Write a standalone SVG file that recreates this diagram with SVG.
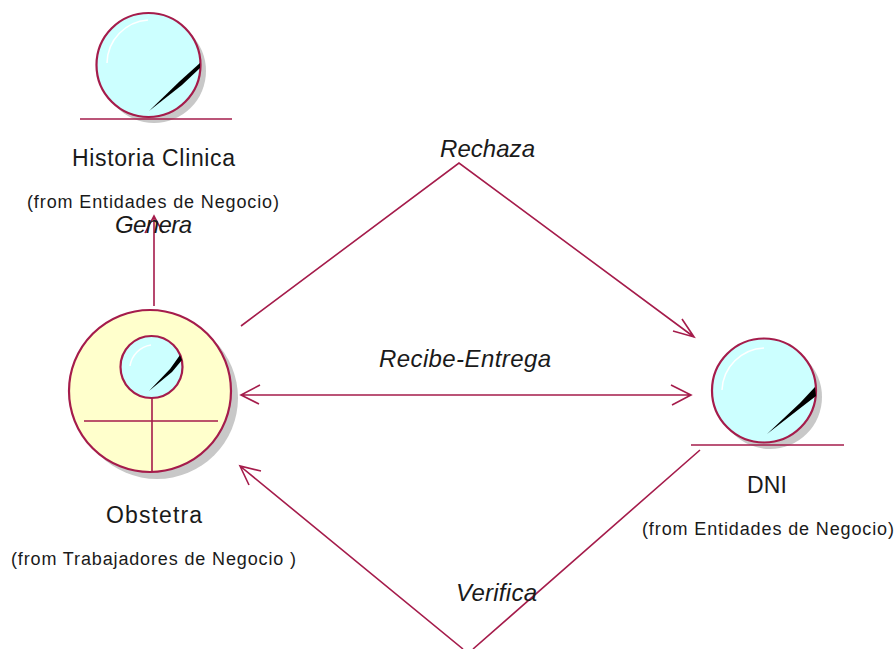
<svg xmlns="http://www.w3.org/2000/svg" width="895" height="649" viewBox="0 0 895 649">
<style>
text{font-family:"Liberation Sans",Arial,sans-serif;fill:#1a1a1a}
.n{font-size:23px}
.f{font-size:18px}
.l{font-size:24px;font-style:italic}
.c{fill:none;stroke:#a51c4b;stroke-width:1.6}
.b{fill:#ccffff;stroke:#a51c4b;stroke-width:2.200}
.y{fill:#ffffcc;stroke:#a51c4b;stroke-width:2.200}
.s{fill:#c8c8c8}
.h{fill:none;stroke:#fff;stroke-width:1.500}
.p{fill:#000}
</style>
<rect width="895" height="649" fill="#fff"/>
<g id="historia-clinica">
<circle class="s" cx="154" cy="71" r="52"/>
<circle class="b" cx="148.500" cy="65" r="52"/>
<path class="h" d="M107 63A44 44 0 0 1 148 20"/>
<polygon class="p" points="149,111 180,81 200,63 200,68 182,85"/>
<line class="c" x1="80" y1="119" x2="232" y2="119"/>
<text class="n" x="72" y="166" textLength="163">Historia Clinica</text>
<text class="f" x="27" y="208" textLength="252">(from Entidades de Negocio)</text>
</g>
<g id="obstetra">
<circle class="s" cx="157" cy="398" r="81"/>
<circle class="y" cx="150" cy="391" r="81"/>
<circle class="b" cx="151.500" cy="367" r="31"/>
<path class="h" d="M130 366A25 25 0 0 1 151 345"/>
<polygon class="p" points="149,391 170,369 180,355 182,360 172,372"/>
<path class="c" d="M84 421H218M152 398V472"/>
<text class="n" x="106" y="523" textLength="96">Obstetra</text>
<text class="f" x="11" y="565" textLength="285">(from Trabajadores de Negocio )</text>
</g>
<g id="dni">
<circle class="s" cx="770" cy="397" r="52"/>
<circle class="b" cx="764" cy="390.500" r="52"/>
<path class="h" d="M722 390A44 44 0 0 1 764 348"/>
<polygon class="p" points="767,434 800,403 815,387 816,396 803,406"/>
<line class="c" x1="691" y1="445" x2="844" y2="445"/>
<text class="n" x="747" y="493" textLength="40">DNI</text>
<text class="f" x="642" y="535" textLength="252">(from Entidades de Negocio)</text>
</g>
<g id="connectors">
<path class="c" d="M154 306V216M145 233L154 216L163 233"/>
<path class="c" d="M241 326L459 163L694 337M673 331L694 337L682 319"/>
<path class="c" d="M241 395H691M260 385L241 395L259 404M671 385L691 395L672 405"/>
<path class="c" d="M700 450L473 649M463 649L240 466M249 485L240 466L261 471"/>
<text class="l" x="115" y="233" textLength="77">Genera</text>
<text class="l" x="440" y="157" textLength="95">Rechaza</text>
<text class="l" x="379" y="367" textLength="172">Recibe-Entrega</text>
<text class="l" x="456" y="601" textLength="81">Verifica</text>
</g>
</svg>
